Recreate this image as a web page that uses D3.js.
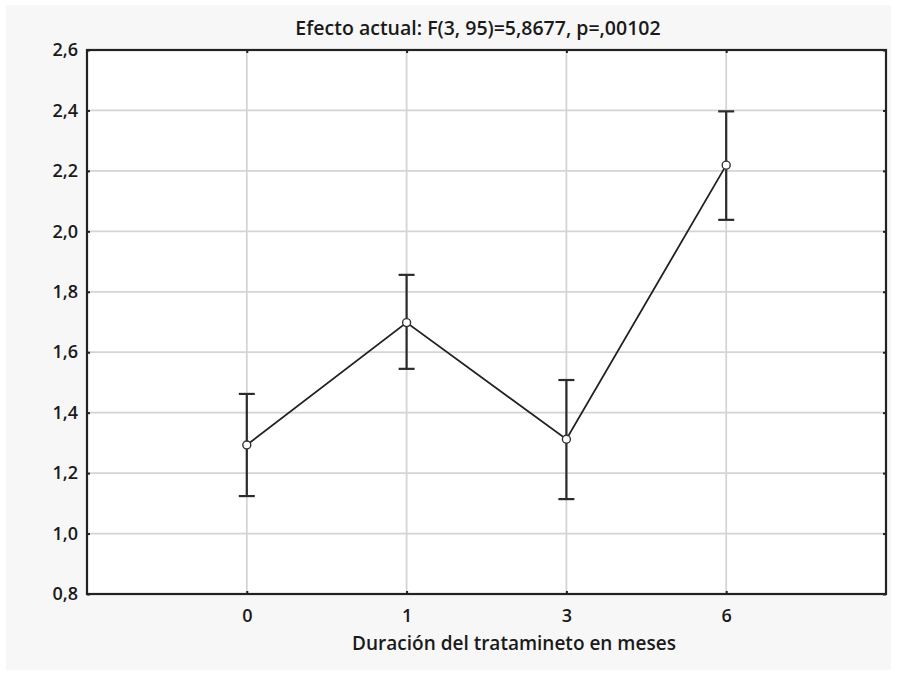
<!DOCTYPE html>
<html>
<head>
<meta charset="utf-8">
<script src="https://cdn.jsdelivr.net/npm/d3@7"></script>
<style>
  body { margin: 0; background: #fff; }
  text { font-family: "Open Sans", sans-serif; }
</style>
</head>
<body>
<div id="chart"></div>
<script>
// data
var months = ["0", "1", "3", "6"];
var means = [1.293, 1.698, 1.312, 2.219];
var upper = [1.462, 1.856, 1.508, 2.397];
var lower = [1.124, 1.545, 1.114, 2.038];
var yTicks = [0.8, 1.0, 1.2, 1.4, 1.6, 1.8, 2.0, 2.2, 2.4, 2.6];

var svgWidth = 897;
var svgHeight = 675;

var margin = { top: 50, right: 11, bottom: 81, left: 87 };
var width = svgWidth - margin.left - margin.right;
var height = svgHeight - margin.top - margin.bottom;

var svg = d3.select("#chart")
  .append("svg")
  .attr("width", svgWidth)
  .attr("height", svgHeight);

// light grey panel behind everything
svg.append("rect")
  .attr("x", 6).attr("y", 5)
  .attr("width", 885).attr("height", 665)
  .attr("fill", "#f7f7f7");

var chartGroup = svg.append("g")
  .attr("transform", `translate(${margin.left}, ${margin.top})`);

var xScale = d3.scalePoint()
  .domain(months)
  .range([0, width])
  .padding(1);

var yScale = d3.scaleLinear()
  .domain([0.8, 2.6])
  .range([height, 0]);

var fmt = d => d3.format(".1f")(d).replace(".", ",");

chartGroup.append("rect")
  .attr("width", width)
  .attr("height", height)
  .attr("fill", "#fff");

// grid
chartGroup.selectAll(".hgrid")
  .data(yTicks.slice(1, -1))
  .enter()
  .append("line")
  .attr("x1", 0).attr("x2", width)
  .attr("y1", d => yScale(d)).attr("y2", d => yScale(d))
  .attr("stroke", "#d4d4d4")
  .attr("stroke-width", 1.8);

chartGroup.selectAll(".vgrid")
  .data(months)
  .enter()
  .append("line")
  .attr("x1", d => xScale(d)).attr("x2", d => xScale(d))
  .attr("y1", 0).attr("y2", height)
  .attr("stroke", "#d4d4d4")
  .attr("stroke-width", 1.8);

// axes
var leftAxis = d3.axisLeft(yScale).tickValues(yTicks).tickFormat(fmt).tickSizeInner(-3).tickSizeOuter(0).tickPadding(9);
var rightAxis = d3.axisRight(yScale).tickValues(yTicks).tickFormat("").tickSizeInner(-3).tickSizeOuter(0);
var bottomAxis = d3.axisBottom(xScale).tickSizeInner(-3).tickSizeOuter(0).tickPadding(15);
var topAxis = d3.axisTop(xScale).tickFormat("").tickSizeInner(-3).tickSizeOuter(0);

function styleAxis(g) {
  g.select(".domain").remove();
  g.selectAll(".tick line").attr("stroke", "#222").attr("stroke-width", 2);
  g.selectAll(".tick text")
    .attr("fill", "#1a1a1a")
    .style("font-family", "'Open Sans', sans-serif")
    .style("font-weight", 600)
    .style("font-size", "18px");
}

chartGroup.append("g").call(leftAxis).call(styleAxis);
chartGroup.append("g").attr("transform", `translate(${width}, 0)`).call(rightAxis).call(styleAxis);
chartGroup.append("g").attr("transform", `translate(0, ${height})`).call(bottomAxis).call(styleAxis);
chartGroup.append("g").call(topAxis).call(styleAxis);

// frame
chartGroup.append("rect")
  .attr("width", width)
  .attr("height", height)
  .attr("fill", "none")
  .attr("stroke", "#222")
  .attr("stroke-width", 2.2);

// error bars
var capHalf = 8;
var bars = chartGroup.selectAll(".err")
  .data(months)
  .enter()
  .append("g")
  .attr("stroke", "#2b2b2b")
  .attr("stroke-width", 2.2);

bars.append("line")
  .attr("x1", d => xScale(d)).attr("x2", d => xScale(d))
  .attr("y1", (d, i) => yScale(upper[i])).attr("y2", (d, i) => yScale(lower[i]));
bars.append("line")
  .attr("x1", d => xScale(d) - capHalf).attr("x2", d => xScale(d) + capHalf)
  .attr("y1", (d, i) => yScale(upper[i])).attr("y2", (d, i) => yScale(upper[i]));
bars.append("line")
  .attr("x1", d => xScale(d) - capHalf).attr("x2", d => xScale(d) + capHalf)
  .attr("y1", (d, i) => yScale(lower[i])).attr("y2", (d, i) => yScale(lower[i]));

// mean line
var line = d3.line()
  .x(d => xScale(d))
  .y((d, i) => yScale(means[i]));

chartGroup.append("path")
  .datum(months)
  .attr("d", line)
  .attr("fill", "none")
  .attr("stroke", "#222")
  .attr("stroke-width", 1.8);

chartGroup.selectAll("circle")
  .data(months)
  .enter()
  .append("circle")
  .attr("cx", d => xScale(d))
  .attr("cy", (d, i) => yScale(means[i]))
  .attr("r", 4)
  .attr("fill", "#fff")
  .attr("stroke", "#333")
  .attr("stroke-width", 1.4);

// title and axis label
svg.append("text")
  .attr("x", 478)
  .attr("y", 35)
  .attr("text-anchor", "middle")
  .style("font-size", "19.5px")
  .style("font-weight", 600)
  .attr("fill", "#1a1a1a")
  .text("Efecto actual: F(3, 95)=5,8677, p=,00102");

svg.append("text")
  .attr("x", 514)
  .attr("y", 650)
  .attr("text-anchor", "middle")
  .style("font-size", "19px")
  .style("font-weight", 600)
  .attr("fill", "#1a1a1a")
  .text("Duración del tratamineto en meses");
</script>
</body>
</html>
